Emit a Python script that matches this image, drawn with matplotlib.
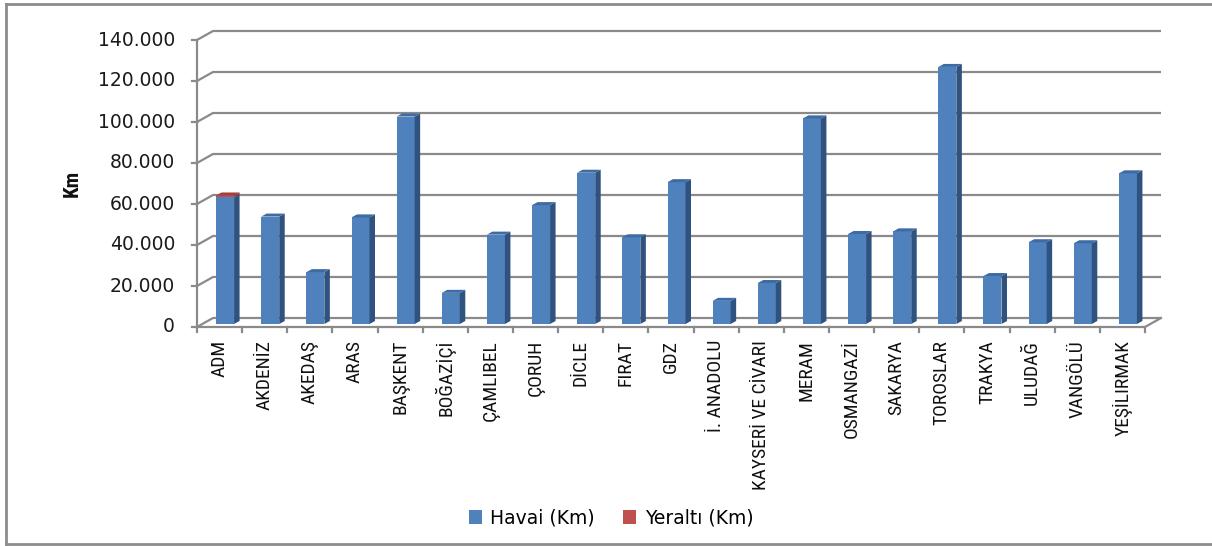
import matplotlib
matplotlib.use("Agg")
import matplotlib.pyplot as plt
from matplotlib.patches import Polygon, Patch
from matplotlib.lines import Line2D

categories = ["ADM", "AKDENİZ", "AKEDAŞ", "ARAS", "BAŞKENT", "BOĞAZİÇİ", "ÇAMLIBEL",
              "ÇORUH", "DİCLE", "FIRAT", "GDZ", "İ. ANADOLU", "KAYSERİ VE CİVARI",
              "MERAM", "OSMANGAZİ", "SAKARYA", "TOROSLAR", "TRAKYA", "ULUDAĞ",
              "VANGÖLÜ", "YEŞİLIRMAK"]
havai = [61800, 52400, 25300, 52000, 101200, 15200, 43600, 58000, 73800, 42300, 69200,
         11300, 20000, 100300, 43900, 45200, 125400, 23400, 39900, 39400, 73500]
yeralti = [900, 0, 0, 0, 0, 0, 0, 0, 0, 0, 0, 0, 0, 0, 0, 0, 0, 0, 0, 0, 0]
yticks = [0, 20000, 40000, 60000, 80000, 100000, 120000, 140000]
ytick_labels = ["0", "20.000", "40.000", "60.000", "80.000", "100.000", "120.000", "140.000"]

W, H = 1212, 546
fig = plt.figure(figsize=(W / 100, H / 100), dpi=100)

# chart-area border (left, top, bottom; right edge lies outside the picture)
bc = "#8c8c8c"
for xs, ys in [([6, 6], [4, 544]), ([6, W + 5], [4, 4]), ([6, W + 5], [544, 544])]:
    fig.add_artist(Line2D([x / W for x in xs], [1 - y / H for y in ys],
                          transform=fig.transFigure, color=bc, lw=2.0))

x0, x1, ytop, ybot = 197, 1145, 40, 327
ax = fig.add_axes([x0 / W, (H - ybot) / H, (x1 - x0) / W, (ybot - ytop) / H])
n = len(categories)
YMAX = 140000
ax.set_xlim(0, n)
ax.set_ylim(0, YMAX)
ax.axis("off")

PX_X = (x1 - x0) / n
PX_Y = (ybot - ytop) / YMAX
def dxp(p):
    return p / PX_X
def dyp(p):
    return p / PX_Y

grid_c = "#8a8a8a"
bdx, bdy = dxp(16), dyp(9)

# back wall gridlines with left-wall diagonals
for v in yticks:
    ax.plot([0, bdx, n + bdx], [v, v + bdy, v + bdy], color=grid_c, lw=1.6,
            clip_on=False, zorder=1, solid_capstyle="butt")
    ax.plot([-dxp(5), 0], [v, v], color=grid_c, lw=1.6, clip_on=False, zorder=1)
# front spine, floor edges, category ticks
ax.plot([0, 0], [0, YMAX], color=grid_c, lw=1.6, clip_on=False, zorder=1)
ax.plot([0, n, n + bdx], [0, 0, bdy], color=grid_c, lw=1.6, clip_on=False, zorder=1)
for i in range(n + 1):
    ax.plot([i, i], [0, -dyp(5)], color=grid_c, lw=1.6, clip_on=False, zorder=1)

# bars (pseudo-3D)
blue_f, blue_s, blue_t = "#4F81BD", "#30527F", "#3E6BA3"
red_f, red_s, red_t = "#C0504D", "#8E3431", "#A33F3C"
bw = dxp(18)
sdx, sdy = dxp(5.5), dyp(3)
base = dyp(3)
for i, (h, y) in enumerate(zip(havai, yeralti)):
    xl = i + 0.5 + dxp(5.5) - bw / 2
    xr = xl + bw
    segs = [(base, base + h, blue_f, blue_s)]
    if y > 0:
        segs.append((base + h, base + h + y, red_f, red_s))
    for b, t, fc, sc in segs:
        ax.add_patch(plt.Rectangle((xl, b), bw, t - b, facecolor=fc, edgecolor="none",
                                   zorder=3, clip_on=False))
        ax.add_patch(Polygon([(xr, b), (xr + sdx, b + sdy), (xr + sdx, t + sdy), (xr, t)],
                             closed=True, facecolor=sc, edgecolor="none", zorder=3,
                             clip_on=False))
    top = base + h + y
    tc = red_t if y > 0 else blue_t
    ax.add_patch(Polygon([(xl, top), (xl + sdx, top + sdy), (xr + sdx, top + sdy), (xr, top)],
                         closed=True, facecolor=tc, edgecolor="none", zorder=3, clip_on=False))

# y tick labels
for v, lab in zip(yticks, ytick_labels):
    ax.text(-dxp(22), v, lab, ha="right", va="center", fontsize=13.5,
            family="DejaVu Sans", color="#1a1a1a", clip_on=False)

# x tick labels
narrow = ["Roboto Condensed", "PT Sans Narrow", "DejaVu Sans"]
for i, c in enumerate(categories):
    ax.text(i + 0.5, -dyp(13), c, rotation=90, ha="center", va="top", fontsize=14,
            family=narrow, color="#111111", clip_on=False)

fig.text(72 / W, 1 - 183 / H, "Km", rotation=90, ha="center", va="center",
         fontsize=15, fontweight="bold", family=narrow, color="#111111")

handles = [Patch(facecolor=blue_f, edgecolor="none"), Patch(facecolor=red_f, edgecolor="none")]
fig.legend(handles, ["Havai (Km)", "Yeraltı (Km)"], loc="center",
           bbox_to_anchor=(611 / W, 1 - 518 / H), ncol=2, frameon=False,
           prop={"family": "DejaVu Sans", "size": 13.5}, handlelength=0.7,
           handleheight=0.7, handletextpad=0.45, columnspacing=1.5)

fig.savefig("out.png", dpi=100)
